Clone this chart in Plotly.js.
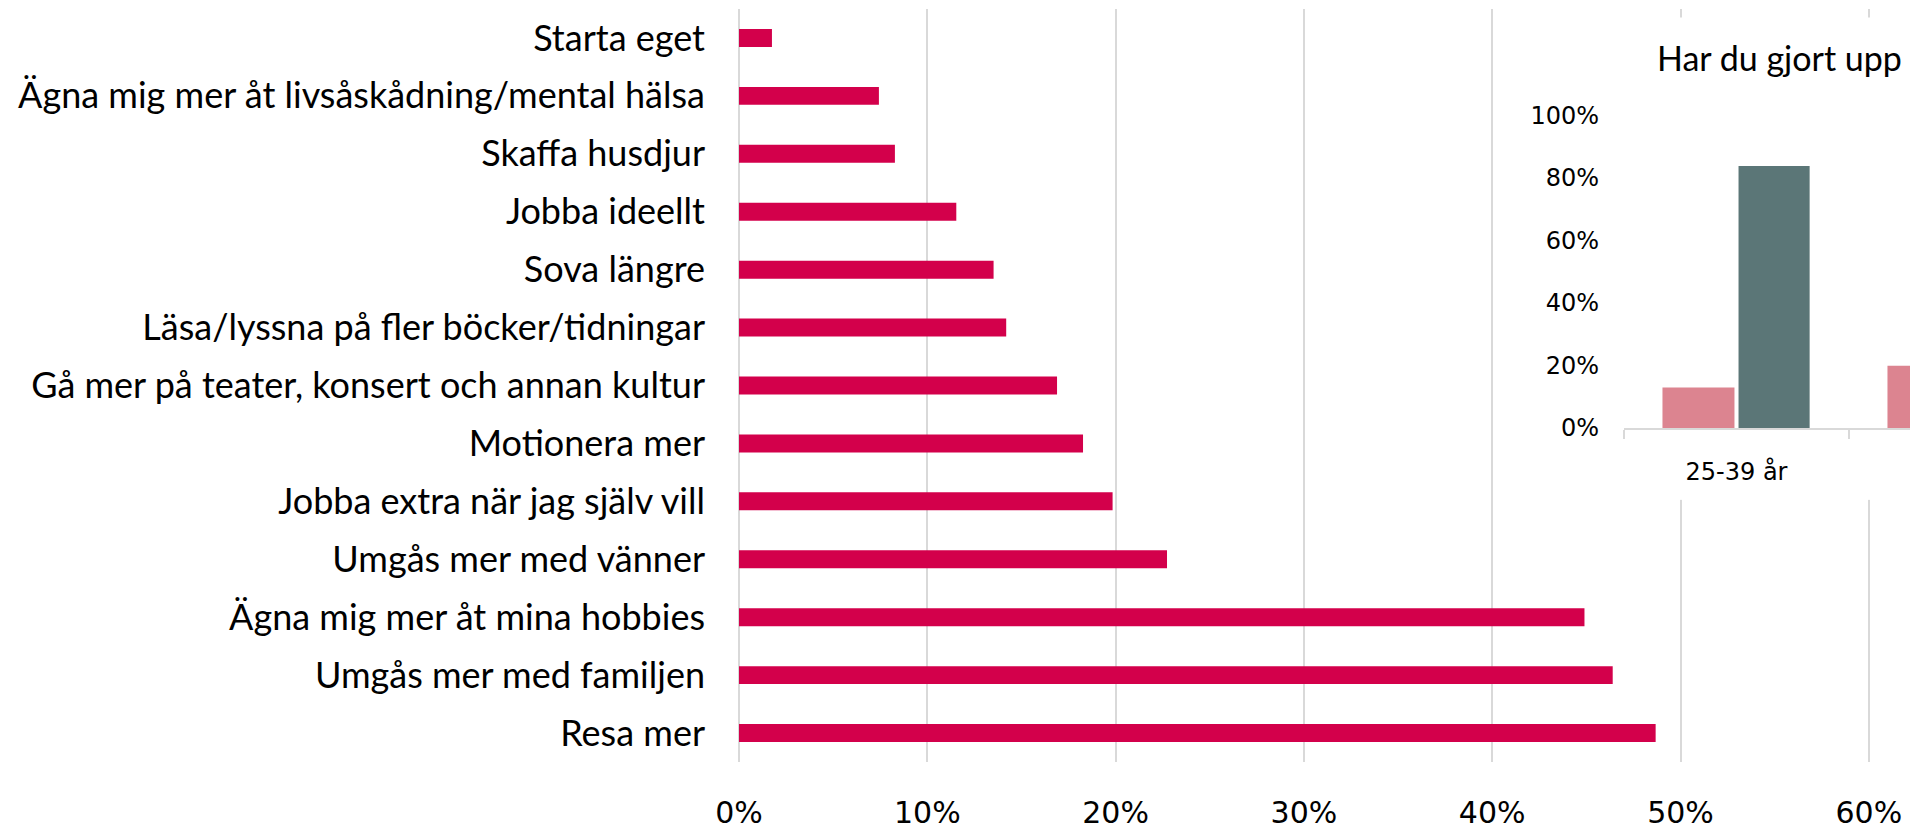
<!DOCTYPE html>
<html>
<head>
<meta charset="utf-8">
<script src="https://cdn.plot.ly/plotly-3.0.1.min.js"></script>
<style>
  html, body { margin: 0; padding: 0; background: #ffffff; }
  #chart { width: 1910px; height: 829px; }
</style>
</head>
<body>
<div id="chart"></div>
<script>
// ---- Main chart data ----
const activities = [
  "Starta eget",
  "Ägna mig mer åt livsåskådning/mental hälsa",
  "Skaffa husdjur",
  "Jobba ideellt",
  "Sova längre",
  "Läsa/lyssna på fler böcker/tidningar",
  "Gå mer på teater, konsert och annan kultur",
  "Motionera mer",
  "Jobba extra när jag själv vill",
  "Umgås mer med vänner",
  "Ägna mig mer åt mina hobbies",
  "Umgås mer med familjen",
  "Resa mer"
];
const activityShare = [0.0175, 0.0743, 0.0828, 0.1154, 0.1352, 0.1419, 0.1689, 0.1827, 0.1984, 0.2273, 0.4490, 0.4640, 0.4868];
const mainTicks = [0, 0.1, 0.2, 0.3, 0.4, 0.5, 0.6];

// ---- Inset chart data ----
const insetTitle = "Har du gjort upp";
const ageGroups = ["25-39 år", "40-54 år"];
const seriesPink = [0.129, 0.199];
const seriesTeal = [0.838, null];
const insetTicks = [0, 0.2, 0.4, 0.6, 0.8, 1.0];

// ---- Geometry helpers (pixel layout of the page) ----
const W = 1910, H = 829;
const mL = 739, mR = 0, mT = 8.5, mB = 66.5;
const plotW = W - mL - mR, plotH = H - mT - mB;
const px2fx = p => (p - mL) / plotW;
const py2fy = p => (H - mB - p) / plotH;

const catFont = { family: "Lato, 'DejaVu Sans', sans-serif", size: 36, color: "#000000" };
const pctFont = { family: "'DejaVu Sans', sans-serif", size: 30, color: "#000000" };
const insetFont = { family: "'DejaVu Sans', sans-serif", size: 24, color: "#000000" };
const grid = "#d9d9d9";

const traces = [
  {
    type: "bar", orientation: "h",
    x: activityShare, y: activities,
    xaxis: "x", yaxis: "y",
    marker: { color: "#D3004B" },
    width: 0.31,
    hovertemplate: "%{y}: %{x:.1%}<extra></extra>"
  },
  {
    type: "scatter", mode: "markers", x: [], y: [],
    xaxis: "x2", yaxis: "y2", hoverinfo: "skip", showlegend: false
  },
  {
    type: "bar", name: "Ja",
    x: ageGroups, y: seriesPink,
    xaxis: "x3", yaxis: "y3",
    marker: { color: "#DC8490" },
    offset: -0.329, width: 0.32,
    hovertemplate: "%{x}: %{y:.0%}<extra></extra>"
  },
  {
    type: "bar", name: "Nej",
    x: ageGroups, y: seriesTeal,
    xaxis: "x3", yaxis: "y3",
    marker: { color: "#5B7677" },
    offset: 0.009, width: 0.316,
    hovertemplate: "%{x}: %{y:.0%}<extra></extra>"
  }
];

const hidden = {
  showgrid: false, zeroline: false, showline: false,
  showticklabels: false, ticks: "", fixedrange: true, range: [0, 1]
};

const layout = {
  width: W, height: H, autosize: false,
  margin: { l: mL, r: mR, t: mT, b: mB, pad: 0 },
  paper_bgcolor: "#ffffff", plot_bgcolor: "#ffffff",
  showlegend: false, barmode: "overlay",
  xaxis: {
    domain: [0, 1], anchor: "y",
    range: [0, (W - mR - mL) / 1883],
    tickvals: mainTicks, tickformat: ".0%",
    showgrid: true, gridcolor: grid, gridwidth: 2,
    zeroline: true, zerolinecolor: grid, zerolinewidth: 2,
    showline: false, ticks: "",
    ticklabelstandoff: 30,
    tickfont: pctFont, fixedrange: true
  },
  yaxis: {
    domain: [0, 1], anchor: "x",
    type: "category", categoryorder: "array", categoryarray: activities,
    range: [12.5, -0.5],
    showgrid: false, zeroline: false, showline: false, ticks: "",
    ticklabelstandoff: 33,
    tickfont: catFont, fixedrange: true
  },
  xaxis2: Object.assign({ domain: [px2fx(1500), 1], anchor: "y2" }, hidden),
  yaxis2: Object.assign({ domain: [py2fy(500), py2fy(17)], anchor: "x2" }, hidden),
  xaxis3: {
    domain: [px2fx(1624), 1], anchor: "y3",
    type: "category", categoryorder: "array", categoryarray: ageGroups,
    range: [-0.5, -0.5 + (1910 - 1624) / 225],
    showline: true, linecolor: grid, linewidth: 2,
    ticks: "outside", tickson: "boundaries", ticklen: 9, tickwidth: 2, tickcolor: grid,
    showgrid: false, zeroline: false,
    ticklabelstandoff: 21,
    tickfont: insetFont, fixedrange: true
  },
  yaxis3: {
    domain: [py2fy(428), py2fy(115)], anchor: "x3",
    range: [0, 1],
    tickvals: insetTicks, tickformat: ".0%",
    showgrid: false, zeroline: false, showline: false, ticks: "",
    ticklabelstandoff: 24,
    tickfont: insetFont, fixedrange: true
  },
  annotations: [
    {
      text: insetTitle, xref: "paper", yref: "paper",
      x: px2fx(1655), y: py2fy(57), xanchor: "left", yanchor: "middle",
      showarrow: false, font: { family: "Lato, sans-serif", size: 34, color: "#000000" }
    }
  ]
};

Plotly.newPlot("chart", traces, layout, { displayModeBar: false, staticPlot: true });
</script>
</body>
</html>
